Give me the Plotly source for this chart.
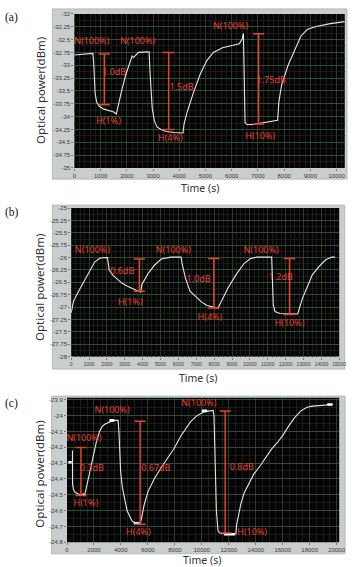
import plotly.graph_objects as go

W, H = 354, 567

# ---------------- data: panel (a) ----------------
ta = [0, 300, 706, 740, 760, 790, 850, 950, 1100, 1300, 1500, 1600, 1640, 1700, 1800, 1950, 2100, 2200,
      2256, 2442, 2814, 2850, 2880, 2920, 2970, 3050, 3150, 3300, 3500, 3800, 4144, 4180, 4300, 4550,
      4800, 5050, 5300, 5650, 6040, 6290, 6390, 6447, 6509, 6600, 6850, 7400, 7750, 7800, 7900, 8150,
      8400, 8640, 8890, 9260, 9760, 10310]
pa = [-32.80, -32.79, -32.77, -33.0, -33.35, -33.55, -33.72, -33.80, -33.85, -33.88, -33.91, -33.95,
      -33.85, -33.7, -33.5, -33.2, -32.95, -32.82, -32.85, -32.75, -32.74, -32.74, -33.1, -33.5, -33.85,
      -34.08, -34.2, -34.25, -34.29, -34.31, -34.32, -34.15, -33.91, -33.52, -33.17, -32.91, -32.75,
      -32.66, -32.61, -32.58, -32.50, -32.38, -34.12, -34.16, -34.15, -34.10, -34.07, -33.71, -33.39,
      -33.0, -32.69, -32.43, -32.30, -32.24, -32.19, -32.15]
a_lbl_x = [660, 2409, 5955, 1517, 1300, 4089, 3658, 7505, 7089]
a_lbl_y = [-32.55, -32.55, -32.26, -33.15, -34.11, -33.43, -34.44, -33.31, -34.39]
a_lbl_t = ["N(100%)", "N(100%)", "N(100%)", "1.0dB", "H(1%)", "1.5dB", "H(4%)", "1.75dB", "H(10%)"]
a_bar_x = [1141, 3595, 7026]
a_bar_top = [-32.78, -32.75, -32.385]
a_bar_bot = [-33.77, -34.25, -34.145]

# ---------------- data: panel (b) ----------------
tb = [0, 130, 400, 670, 1037, 1310, 1580, 1800, 2030, 2127, 2310, 2600, 2855, 3150, 3400, 3764, 3890,
      3950, 4310, 4674, 5037, 5582, 6150, 6219, 6401, 6650, 6983, 7300, 7600, 8220, 8401, 8765, 9220,
      9674, 10038, 10401, 11220, 11310, 11401, 11674, 12674, 12765, 12947, 13220, 13493, 13857, 14221,
      14584, 14766]
pb = [-27.12, -26.88, -26.69, -26.52, -26.29, -26.09, -26.02, -26.0, -26.0, -26.25, -26.35, -26.45,
      -26.52, -26.58, -26.62, -26.69, -26.70, -26.55, -26.32, -26.15, -26.03, -25.99, -25.99, -26.15,
      -26.42, -26.68, -26.8, -26.9, -26.97, -27.02, -26.89, -26.62, -26.35, -26.12, -26.02, -25.99,
      -25.99, -26.95, -27.09, -27.13, -27.14, -27.02, -26.82, -26.59, -26.35, -26.19, -26.05, -25.99,
      -25.99]
b_lbl_x = [1190, 5718, 10629, 2855, 3310, 7128, 7764, 11729, 12220]
b_lbl_y = [-25.87, -25.87, -25.87, -26.29, -26.91, -26.44, -27.22, -26.40, -27.33]
b_lbl_t = ["N(100%)", "N(100%)", "N(100%)", "0.6dB", "H(1%)", "1.0dB", "H(4%)", "1.2dB", "H(10%)"]
b_bar_x = [3819, 7983, 12220]
b_bar_top = [-26.03, -26.02, -26.02]
b_bar_bot = [-26.68, -27.02, -27.15]

# ---------------- data: panel (c) ----------------
tc = [405, 410, 480, 600, 840, 1200, 1300, 1400, 1500, 1600, 1700, 1850, 2000, 2170, 2410, 2600, 2800,
      3000, 3300, 3600, 3790, 3850, 3903, 3975, 4100, 4214, 4453, 4814, 5000, 5298, 5420, 5537, 5732,
      6021, 6505, 6982, 7467, 7951, 8429, 9152, 9634, 10236, 10838, 10900, 10958, 11079, 11199, 11368,
      12000, 12527, 12577, 12720, 12890, 13130, 13500, 13850, 14300, 14745, 15179, 15612, 16046,
      16480, 16914, 17347, 17800, 18200, 19000, 19700]
pc = [-24.22, -24.43, -24.467, -24.485, -24.495, -24.50, -24.505, -24.47, -24.43, -24.39, -24.35,
      -24.29, -24.235, -24.17, -24.10, -24.07, -24.055, -24.045, -24.035, -24.03, -24.03, -24.10,
      -24.19, -24.35, -24.45, -24.50, -24.60, -24.665, -24.675, -24.68, -24.683, -24.644, -24.56,
      -24.477, -24.394, -24.33, -24.27, -24.206, -24.13, -24.04, -24.0, -23.975, -23.967, -24.0,
      -24.19, -24.60, -24.727, -24.744, -24.748, -24.748, -24.69, -24.62, -24.56, -24.49, -24.43,
      -24.37, -24.32, -24.26, -24.21, -24.17, -24.12, -24.06, -24.01, -23.97, -23.947, -23.94,
      -23.935, -23.93]
c_cur_x = [100, 350, None, 1150, 1300, None, 3150, 3500, None, 4950, 5400, None, 10000, 10400, None,
           11650, 12450, None, 19300, 19700]
c_cur_y = [-24.295, -24.295, None, -24.50, -24.50, None, -24.03, -24.03, None, -24.68, -24.68, None,
           -23.97, -23.97, None, -24.75, -24.75, None, -23.93, -23.93]
c_lbl_x = [1258, 3347, 9780, 1842, 1395, 6586, 5299, 12960, 13733]
c_lbl_y = [-24.148, -23.971, -23.925, -24.336, -24.56, -24.336, -24.7375, -24.33, -24.7375]
c_lbl_t = ["N(100%)", "N(100%)", "N(100%)", "0.3dB", "H(1%)", "0.67dB", "H(4%)", "0.8dB", "H(10%)"]
c_bar_x = [1034, 5421, 11732]
c_bar_top = [-24.202, -24.035, -23.971]
c_bar_bot = [-24.504, -24.686, -24.742]

# ticks
a_xt = list(range(0, 10001, 1000))
a_yt = [-35 + 0.25 * i for i in range(13)]
b_xt = list(range(0, 15001, 1000))
b_yt = [-28 + 0.25 * i for i in range(13)]
c_xt = list(range(0, 20001, 2000))
c_yt = [round(-24.8 + 0.1 * i, 1) for i in range(10)]

panel_names = ["(a)", "(b)", "(c)"]
x_title = "Time (s)"
y_title = "Optical power(dBm)"

# ---------------- layout geometry (pixels) ----------------
panels = [
    dict(l=74.3, r=351.7, t=11, b=166.7, xr=[0, 10312], yr=[-35, -32], xt=a_xt, yt=a_yt,
         xminor=200, yminor=0.125, frame=(51.7, 354, 6, 178), lab_y=15, xt_y=186.5, xt_x=203, yt_y=89,
         xfs=6),
    dict(l=71, r=346, t=207.3, b=357.3, xr=[0, 15000], yr=[-28, -25], xt=b_xt, yt=b_yt,
         xminor=250, yminor=0.125, frame=(51.7, 351.7, 204.3, 370), lab_y=211.7, xt_y=379, xt_x=201, yt_y=288,
         xfs=5),
    dict(l=66.7, r=346, t=399, b=545, xr=[0, 20188], yr=[-24.8, -23.8875], xt=c_xt, yt=c_yt,
         xminor=500, yminor=0.05, frame=(51, 352, 397.3, 556.7), lab_y=405, xt_y=563, xt_x=205, yt_y=476.7,
         xfs=6),
]

def fx(px):
    return px / W

def fy(py):
    return 1 - py / H

RED = "#e2432c"
data = [
    (ta, pa, a_lbl_x, a_lbl_y, a_lbl_t, a_bar_x, a_bar_top, a_bar_bot),
    (tb, pb, b_lbl_x, b_lbl_y, b_lbl_t, b_bar_x, b_bar_top, b_bar_bot),
    (tc, pc, c_lbl_x, c_lbl_y, c_lbl_t, c_bar_x, c_bar_top, c_bar_bot),
]

fig = go.Figure()
shapes = []
annotations = []
layout_axes = {}

for i, (p, d) in enumerate(zip(panels, data)):
    sfx = "" if i == 0 else str(i + 1)
    xa, ya = "x" + sfx, "y" + sfx
    t, v, lx, ly, lt, bx, btop, bbot = d
    fig.add_trace(go.Scatter(x=t, y=v, mode="lines", xaxis=xa, yaxis=ya,
                             line=dict(color="#e6e6e6", width=1.1), showlegend=False, hoverinfo="skip"))
    if i == 2:
        fig.add_trace(go.Scatter(x=c_cur_x, y=c_cur_y, mode="lines", xaxis=xa, yaxis=ya,
                                 line=dict(color="#ffffff", width=2.6), showlegend=False, hoverinfo="skip"))
    for xb, y0, y1 in zip(bx, btop, bbot):
        fig.add_trace(go.Scatter(x=[xb, xb], y=[y0, y1], mode="lines+markers", xaxis=xa, yaxis=ya,
                                 line=dict(color=RED, width=1.5),
                                 marker=dict(symbol="line-ew", size=8, line=dict(color=RED, width=1.5)),
                                 showlegend=False, hoverinfo="skip"))
    fig.add_trace(go.Scatter(x=lx, y=ly, text=lt, mode="text", xaxis=xa, yaxis=ya,
                             textfont=dict(color=RED, size=9, family="Noto Sans"),
                             textposition="middle center", showlegend=False, hoverinfo="skip"))

    fl, fr, ft, fb = p["frame"]
    shapes.append(dict(type="rect", xref="paper", yref="paper", x0=fx(fl), x1=fx(fr), y0=fy(fb), y1=fy(ft),
                       fillcolor="#c9cdcd", line=dict(color="#b5b9b9", width=1), layer="below"))
    shapes.append(dict(type="rect", xref="paper", yref="paper", x0=fx(p["l"]), x1=fx(p["r"]),
                       y0=fy(p["b"]), y1=fy(p["t"]), fillcolor="#050505", line=dict(width=0), layer="below"))

    ytickfont = dict(size=6, color="#3a3a3a", family="Liberation Sans")
    xtickfont = dict(size=p["xfs"], color="#3a3a3a", family="Liberation Sans")
    layout_axes["xaxis" + sfx] = dict(
        domain=[fx(p["l"]), fx(p["r"])], range=p["xr"], anchor=ya,
        tickvals=p["xt"], ticktext=[str(x) for x in p["xt"]], tickfont=xtickfont, tickangle=0,
        ticks="outside", ticklen=2, tickcolor="#777", showline=False, zeroline=False,
        showgrid=True, gridcolor="#2c3a2c", gridwidth=1,
        minor=dict(dtick=p["xminor"], showgrid=True, gridcolor="#1c1c1c", gridwidth=1, ticks=""),
        fixedrange=True)
    layout_axes["yaxis" + sfx] = dict(
        domain=[fy(p["b"]), fy(p["t"])], range=p["yr"], anchor=xa,
        tickvals=p["yt"], ticktext=[f"{y:g}" for y in p["yt"]], tickfont=ytickfont,
        ticks="outside", ticklen=2, tickcolor="#777", showline=False, zeroline=False,
        showgrid=True, gridcolor="#2f4d30", gridwidth=1,
        minor=dict(dtick=p["yminor"], showgrid=True, gridcolor="#1a1a1a", gridwidth=1, ticks=""),
        fixedrange=True)

    annotations.append(dict(text=panel_names[i], xref="paper", yref="paper", x=fx(10), y=fy(p["lab_y"]),
                            showarrow=False, xanchor="center", yanchor="middle",
                            font=dict(size=11.5, color="#111", family="Liberation Serif")))
    annotations.append(dict(text=x_title, xref="paper", yref="paper", x=fx(p["xt_x"]), y=fy(p["xt_y"]),
                            showarrow=False, xanchor="center", yanchor="middle",
                            font=dict(size=10.5, color="#333", family="Noto Sans")))
    annotations.append(dict(text=y_title, xref="paper", yref="paper", x=fx(39), y=fy(p["yt_y"]),
                            showarrow=False, xanchor="center", yanchor="middle", textangle=-90,
                            font=dict(size=11.5, color="#333", family="Noto Sans")))

fig.update_layout(
    width=W, height=H, margin=dict(l=0, r=0, t=0, b=0),
    paper_bgcolor="white", plot_bgcolor="#050505",
    shapes=shapes, annotations=annotations, **layout_axes)

fig.write_html("out.html", config={"displayModeBar": False})
